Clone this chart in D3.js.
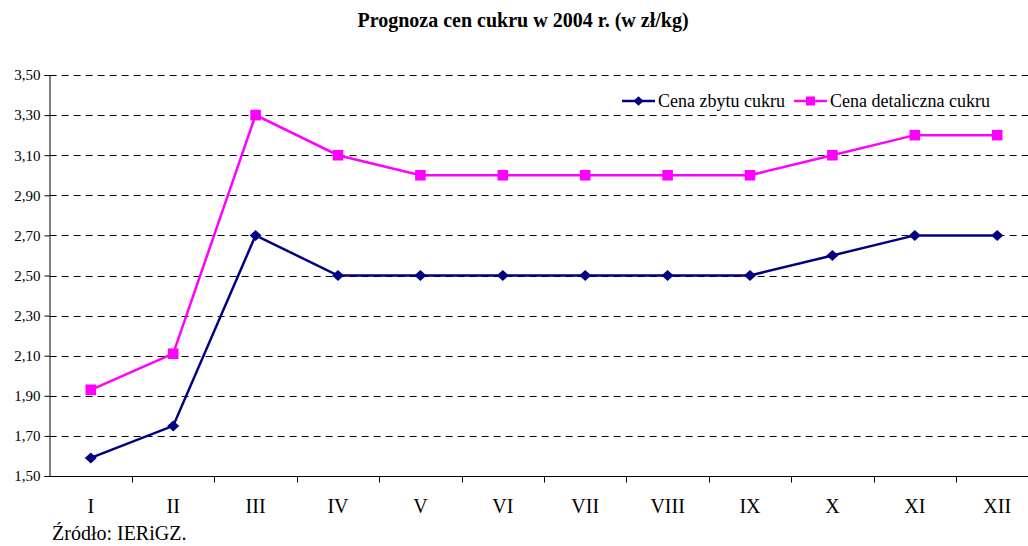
<!DOCTYPE html>
<html>
<head>
<meta charset="utf-8">
<script src="https://cdn.jsdelivr.net/npm/d3@7"></script>
<style>
  body { margin: 0; background: #fff; }
  svg { display: block; font-family: "Liberation Serif", "Times New Roman", serif; }
</style>
</head>
<body>
<div id="chart"></div>
<script>
// Chart data
var months = ["I", "II", "III", "IV", "V", "VI", "VII", "VIII", "IX", "X", "XI", "XII"];
var cenaZbytu = [1.59, 1.75, 2.70, 2.50, 2.50, 2.50, 2.50, 2.50, 2.50, 2.60, 2.70, 2.70];
var cenaDetaliczna = [1.93, 2.11, 3.30, 3.10, 3.00, 3.00, 3.00, 3.00, 3.00, 3.10, 3.20, 3.20];
var yTicks = [1.5, 1.7, 1.9, 2.1, 2.3, 2.5, 2.7, 2.9, 3.1, 3.3, 3.5];
var seriesNames = ["Cena zbytu cukru", "Cena detaliczna cukru"];

var width = 1028, height = 546;
var svg = d3.select("#chart").append("svg").attr("width", width).attr("height", height);

// Scales
var xScale = d3.scaleBand().domain(months).range([49.6, 1038.4]);
var yScale = d3.scaleLinear().domain([1.5, 3.5]).range([476, 75]);
var fmt = function(d) { return d3.format(".2f")(d).replace(".", ","); };

// Title
svg.append("text")
  .attr("x", 523).attr("y", 27)
  .attr("text-anchor", "middle")
  .attr("font-size", 20).attr("font-weight", "bold")
  .text("Prognoza cen cukru w 2004 r. (w zł/kg)");

// Dashed grid
svg.append("g")
  .selectAll("line")
  .data(yTicks.slice(1))
  .join("line")
  .attr("x1", 49.6).attr("x2", width)
  .attr("y1", function(d) { return Math.round(yScale(d)) + 0.5; })
  .attr("y2", function(d) { return Math.round(yScale(d)) + 0.5; })
  .attr("stroke", "#000").attr("stroke-width", 1)
  .attr("stroke-dasharray", "7,5");

// Y axis
var yAxis = svg.append("g")
  .attr("transform", "translate(49.5,0)")
  .call(d3.axisLeft(yScale).tickValues(yTicks).tickFormat(fmt).tickSize(5).tickPadding(4));
yAxis.select(".domain").attr("stroke", "#000");
yAxis.selectAll("text").attr("font-size", 15).attr("font-family", "Liberation Serif").attr("fill", "#000");

// X axis: ticks between categories
var xAxis = svg.append("g").attr("transform", "translate(0,476.5)");
xAxis.append("line").attr("x1", 49.6).attr("x2", width).attr("stroke", "#000");
xAxis.selectAll("line.tk")
  .data(months.slice(1))
  .join("line").attr("class", "tk")
  .attr("x1", function(d) { return Math.round(xScale(d)) + 0.5; })
  .attr("x2", function(d) { return Math.round(xScale(d)) + 0.5; })
  .attr("y1", 0).attr("y2", 6)
  .attr("stroke", "#000");
xAxis.selectAll("text")
  .data(months)
  .join("text")
  .attr("x", function(d) { return xScale(d) + xScale.bandwidth() / 2; })
  .attr("y", 36)
  .attr("text-anchor", "middle")
  .attr("font-size", 20)
  .text(function(d) { return d; });

// Markers
var diamond = "M0,-5.5L6,0L0,5.5L-6,0Z";
var square = "M-5.3,-5.3H5.3V5.3H-5.3Z";

// Lines
var cx = function(d, i) { return xScale(months[i]) + xScale.bandwidth() / 2; };
var line = d3.line().x(cx).y(function(d) { return yScale(d); });

function drawSeries(data, colour, marker) {
  svg.append("path")
    .datum(data)
    .attr("fill", "none")
    .attr("stroke", colour)
    .attr("stroke-width", 2.5)
    .attr("d", line);
  svg.append("g")
    .selectAll("path")
    .data(data)
    .join("path")
    .attr("transform", function(d, i) { return "translate(" + cx(d, i) + "," + yScale(d) + ")"; })
    .attr("d", marker)
    .attr("fill", colour);
}

drawSeries(cenaZbytu, "#000080", diamond);
drawSeries(cenaDetaliczna, "#FF00FF", square);

// Legend
var legendItems = [
  { name: seriesNames[0], colour: "#000080", marker: diamond, x: 622 },
  { name: seriesNames[1], colour: "#FF00FF", marker: square, x: 794 }
];
var legend = svg.append("g").attr("transform", "translate(0,101)");
legendItems.forEach(function(item) {
  legend.append("line")
    .attr("x1", item.x).attr("x2", item.x + 33)
    .attr("stroke", item.colour).attr("stroke-width", 2.5);
  legend.append("path")
    .attr("transform", "translate(" + (item.x + 16.5) + ",0) scale(0.85)")
    .attr("d", item.marker)
    .attr("fill", item.colour);
  legend.append("text")
    .attr("x", item.x + 36).attr("y", 6)
    .attr("font-size", 18)
    .text(item.name);
});

// Source
svg.append("text")
  .attr("x", 52).attr("y", 540)
  .attr("font-size", 20)
  .text("Źródło: IERiGZ.");
</script>
</body>
</html>
